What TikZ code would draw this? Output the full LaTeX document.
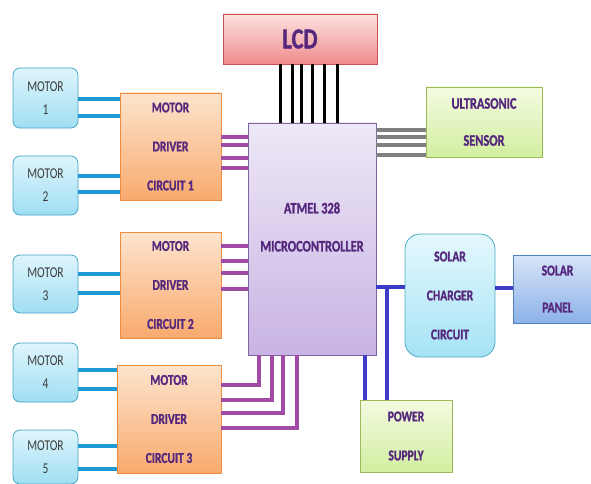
\documentclass[tikz,border=0pt]{standalone}
\usepackage{fontspec}
\setmainfont{Carlito}
\newfontfamily\condfont{Carlito}[FakeStretch=0.77, BoldFeatures={FakeBold=1.2}]
\usetikzlibrary{positioning,calc}

\definecolor{motortop}{RGB}{222,245,252}
\definecolor{motorbot}{RGB}{160,222,243}
\definecolor{motorline}{RGB}{70,165,195}
\definecolor{drvtop}{RGB}{253,228,205}
\definecolor{drvbot}{RGB}{248,170,110}
\definecolor{drvline}{RGB}{242,140,60}
\definecolor{lcdtop}{RGB}{253,225,225}
\definecolor{lcdbot}{RGB}{240,140,140}
\definecolor{lcdline}{RGB}{200,80,80}
\definecolor{mcutop}{RGB}{238,232,246}
\definecolor{mcubot}{RGB}{200,180,228}
\definecolor{mculine}{RGB}{128,100,162}
\definecolor{greentop}{RGB}{244,251,225}
\definecolor{greenbot}{RGB}{210,238,160}
\definecolor{greenline}{RGB}{155,187,89}
\definecolor{chgtop}{RGB}{228,248,253}
\definecolor{chgbot}{RGB}{165,227,245}
\definecolor{chgline}{RGB}{75,172,198}
\definecolor{paneltop}{RGB}{215,228,248}
\definecolor{panelbot}{RGB}{140,178,232}
\definecolor{panelline}{RGB}{79,129,189}
\definecolor{lbltext}{RGB}{85,40,125}
\definecolor{motortext}{RGB}{60,60,60}
\definecolor{bluewire}{RGB}{30,155,215}
\definecolor{purplewire}{RGB}{160,75,165}
\definecolor{graywire}{RGB}{128,128,128}
\definecolor{powerwire}{RGB}{60,60,200}

\begin{document}
\begin{tikzpicture}[x=1pt, y=-1pt,
  every node/.style={align=center, inner sep=0pt, outer sep=0pt, line width=0.8pt},
  lbl/.style={text=lbltext, font=\condfont\bfseries\fontsize{15}{39}\selectfont},
  motorbox/.style={draw=motorline, rounded corners=7pt, top color=motortop, bottom color=motorbot, minimum width=65pt, text=motortext, font=\condfont\fontsize{15}{23}\selectfont},
  drvbox/.style={lbl, draw=drvline, top color=drvtop, bottom color=drvbot},
  greenbox/.style={lbl, draw=greenline, top color=greentop, bottom color=greenbot},
  motorwire/.style={draw=bluewire, line width=3.5pt},
  mcuwire/.style={draw=purplewire, line width=3.5pt},
  lcdwire/.style={draw=black, line width=3pt},
  snswire/.style={draw=graywire, line width=4pt},
  pwrwire/.style={draw=powerwire, line width=3.5pt}]
  \useasboundingbox (0,0) rectangle (591,484);

  \node[lbl, draw=lcdline, top color=lcdtop, bottom color=lcdbot, minimum width=154pt, minimum height=50pt, font=\condfont\bfseries\fontsize{29}{29}\selectfont] (lcd) at (300,39) {LCD};
  \node[draw=mculine, top color=mcutop, bottom color=mcubot, minimum width=128pt, minimum height=232pt] (mcu) at (312,239) {};
  \node[lbl, font=\condfont\bfseries\fontsize{16}{38}\selectfont] (mcutxt) at (312,227) {ATMEL 328\\MICROCONTROLLER};
  \node[greenbox, minimum width=116pt, minimum height=70pt, font=\condfont\bfseries\fontsize{16}{37}\selectfont] (sensor) at (484,122) {ULTRASONIC\\SENSOR};
  \node[lbl, draw=chgline, rounded corners=15pt, top color=chgtop, bottom color=chgbot, minimum width=90pt, minimum height=123pt] (charger) at (450,295.5) {SOLAR\\CHARGER\\CIRCUIT};
  \node[lbl, draw=panelline, top color=paneltop, bottom color=panelbot, minimum width=89pt, minimum height=68pt, font=\condfont\bfseries\fontsize{15}{37}\selectfont] (panel) at (557.5,289) {SOLAR\\PANEL};
  \node[greenbox, minimum width=92pt, minimum height=72pt] (power) at (406,436) {POWER\\SUPPLY};

  \node[drvbox, minimum width=101pt, minimum height=107pt] (driver1) at (170.5,146.5) {MOTOR\\DRIVER\\CIRCUIT 1};
  \node[drvbox, minimum width=101pt, minimum height=106pt] (driver2) at (170.5,285) {MOTOR\\DRIVER\\CIRCUIT 2};
  \node[drvbox, minimum width=104pt, minimum height=108pt] (driver3) at (169,419) {MOTOR\\DRIVER\\CIRCUIT 3};

  \node[motorbox, minimum height=60pt] (motor1) at (45.5,98) {MOTOR\\1};
  \node[motorbox, minimum height=59pt] (motor2) at (45.5,185.5) {MOTOR\\2};
  \node[motorbox, minimum height=58pt] (motor3) at (45.5,284) {MOTOR\\3};
  \node[motorbox, minimum height=59pt] (motor4) at (45.5,372.5) {MOTOR\\4};
  \node[motorbox, minimum height=54pt] (motor5) at (45.5,457) {MOTOR\\5};

  \foreach \y in {99,116} \draw[motorwire] (motor1.east |- 0,\y) -- (driver1.west |- 0,\y);
  \foreach \y in {176,192} \draw[motorwire] (motor2.east |- 0,\y) -- (driver1.west |- 0,\y);
  \foreach \y in {274,293} \draw[motorwire] (motor3.east |- 0,\y) -- (driver2.west |- 0,\y);
  \foreach \y in {370,389} \draw[motorwire] (motor4.east |- 0,\y) -- (driver3.west |- 0,\y);
  \foreach \y in {446,469} \draw[motorwire] (motor5.east |- 0,\y) -- (driver3.west |- 0,\y);

  \foreach \y in {137,145,158,168} \draw[mcuwire] (driver1.east |- 0,\y) -- (mcu.west |- 0,\y);
  \foreach \y in {246,261,273,289} \draw[mcuwire] (driver2.east |- 0,\y) -- (mcu.west |- 0,\y);
  \foreach \x/\y in {259/385,272/400,283/413,297/428} \draw[mcuwire] (driver3.east |- 0,\y) -| (mcu.south -| \x,0);

  \foreach \x in {280,292,301,312,324,337} \draw[lcdwire] (lcd.south -| \x,0) -- (mcu.north -| \x,0);
  \foreach \y in {130,137,145,155} \draw[snswire] (mcu.east |- 0,\y) -- (sensor.west |- 0,\y);

  \coordinate (junction) at (387,287);
  \draw[pwrwire] (mcu.east |- junction) -- (charger.west |- junction);
  \draw[pwrwire] (charger.east |- 0,288) -- (panel.west |- 0,288);
  \draw[pwrwire] (junction) -- (power.north -| junction);
  \draw[pwrwire] (mcu.south -| 365,0) -- (power.north -| 365,0);
\end{tikzpicture}
\end{document}
